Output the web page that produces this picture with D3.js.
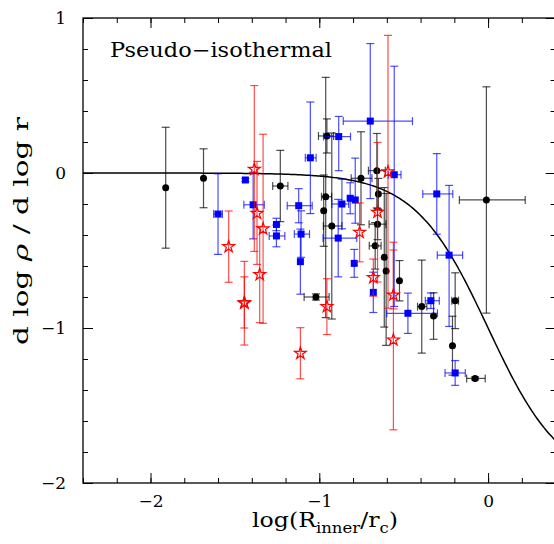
<!DOCTYPE html>
<html>
<head>
<meta charset="utf-8">
<script src="https://cdn.jsdelivr.net/npm/d3@7"></script>
<style>
  body { margin: 0; background: #fff; }
  svg { display: block; }
  text { font-family: "DejaVu Serif", serif; fill: #000; }
</style>
</head>
<body>
<script>
//------------------------------------------------------------------------------
// Data
//------------------------------------------------------------------------------

// black circles
var blackLogR   = [-1.91, -1.686, -1.231, -1.02, -0.01, -0.955, -0.962, -0.974, -0.926, -0.753, -0.659, -0.65, -0.655, -0.669, -0.615, -0.604, -0.525, -0.393, -0.323, -0.195, -0.211, -0.077];
var blackSlope  = [-0.095, -0.034, -0.084, -0.80, -0.174, 0.239, -0.153, -0.243, -0.342, -0.034, 0.015, -0.135, -0.33, -0.47, -0.544, -0.632, -0.695, -0.862, -0.923, -0.824, -1.114, -1.325];
var blackErrDn  = [0.39, 0.19, 0.23, 0.02, 0.73, 0.11, 0.78, 0.23, 0.6, 0.3, 0.24, 0.1, 0.1, 0.15, 0.45, 0.48, 0.13, 0.3, 0.15, 0.18, 0.19, 0.01];
var blackErrUp  = [0.39, 0.19, 0.23, 0.02, 0.73, 0.11, 0.77, 0.23, 0.6, 0.3, 0.24, 0.1, 0.1, 0.15, 0.45, 0.5, 0.13, 0.3, 0.15, 0.18, 0.19, 0.01];
var blackErrLo  = [0, 0, 0.045, 0.07, 0.16, 0.05, 0.025, 0, 0.05, 0.058, 0.05, 0, 0.05, 0.035, 0, 0, 0, 0.025, 0, 0.02, 0, 0.05];
var blackErrHi  = [0, 0, 0.045, 0.078, 0.23, 0.04, 0.035, 0, 0.06, 0.065, 0.05, 0, 0.05, 0.035, 0, 0, 0, 0.03, 0, 0.02, 0, 0.06];

// blue squares
var blueLogR    = [-1.60, -1.438, -1.392, -1.254, -1.254, -1.122, -1.108, -1.112, -1.053, -0.885, -0.866, -0.817, -0.787, -0.888, -0.793, -0.698, -0.68, -0.556, -0.475, -0.339, -0.304, -0.231, -0.195];
var blueSlope   = [-0.265, -0.045, -0.205, -0.332, -0.406, -0.211, -0.394, -0.572, 0.098, 0.235, -0.2, -0.163, -0.174, -0.42, -0.583, 0.335, -0.77, -0.011, -0.905, -0.824, -0.135, -0.53, -1.29];
var blueErrDn   = [0.26, 0.01, 0.22, 0.04, 0.07, 0.11, 0.15, 0.21, 0.36, 0.22, 0.16, 0.1, 0.15, 0.25, 0.09, 0.5, 0.13, 0.85, 0.13, 0.05, 0.26, 0.46, 0.08];
var blueErrUp   = [0.26, 0.01, 0.21, 0.04, 0.07, 0.11, 0.15, 0.21, 0.36, 0.13, 0.16, 0.1, 0.27, 0.25, 0.09, 0.5, 0.13, 0.70, 0.13, 0.05, 0.26, 0.45, 0.08];
var blueErrLo   = [0.026, 0, 0.055, 0, 0.043, 0.068, 0.04, 0, 0.03, 0.09, 0.06, 0, 0, 0.09, 0, 0.16, 0, 0.035, 0.125, 0.033, 0.083, 0.07, 0.06];
var blueErrHi   = [0.026, 0, 0.066, 0, 0.05, 0.08, 0.05, 0, 0.034, 0.07, 0.04, 0, 0, 0.11, 0, 0.25, 0, 0.04, 0.175, 0.05, 0.095, 0.08, 0.06];

// red stars
var redLogR     = [-1.537, -1.444, -1.444, -1.385, -1.369, -1.333, -1.353, -1.112, -0.955, -0.761, -0.655, -0.68, -0.593, -0.561, -0.561];
var redSlope    = [-0.475, -0.84, -0.835, 0.024, -0.26, -0.36, -0.655, -1.163, -0.862, -0.383, -0.253, -0.675, 0.008, -0.787, -1.077];
var redErrDn    = [0.23, 0.27, 0.165, 0.53, 0.33, 0.61, 0.31, 0.165, 0.18, 0.19, 0.45, 0.12, 0.88, 0.09, 0.58];
var redErrUp    = [0.23, 0.27, 0.165, 0.54, 0.335, 0.61, 0.31, 0.165, 0.18, 0.19, 0.45, 0.12, 0.88, 0.34, 0.58];

var xMajor = [-2, -1, 0];
var yMajor = [-2, -1, 0, 1];

// pseudo-isothermal model: rho ~ 1 / (1 + (r/rc)^2)
function modelSlope(logR) {
  var q = Math.pow(10, 2 * logR);
  return -2 * q / (1 + q);
}

//------------------------------------------------------------------------------
// Layout
//------------------------------------------------------------------------------

var W = 554, H = 544;
var plotL = 83, plotR = 555.6, plotT = 18, plotB = 483;

var x = d3.scaleLinear().domain([-2.4, 0.4]).range([plotL, plotR]);
var y = d3.scaleLinear().domain([-2, 1]).range([plotB, plotT]);

var xMinor = d3.range(-12, 3).map(function(i) { return +(i * 0.2).toFixed(1); });
var yMinor = d3.range(-10, 6).map(function(i) { return +(i * 0.2).toFixed(1); });

var svg = d3.select("body").append("svg")
  .attr("width", W)
  .attr("height", H);

//------------------------------------------------------------------------------
// Axes
//------------------------------------------------------------------------------

function addAxis(axisFn, scale, transform, minor, major, labels, pad) {
  var gMinor = svg.append("g").attr("transform", transform)
    .call(axisFn(scale).tickValues(minor).tickSize(-5).tickFormat(""));
  var gMajor = svg.append("g").attr("transform", transform)
    .call(axisFn(scale).tickValues(major).tickSize(-10).tickPadding(pad)
      .tickFormat(labels ? d3.format("d") : ""));
  [gMinor, gMajor].forEach(function(g) {
    g.select(".domain").remove();
    g.attr("font-family", null).attr("font-size", null);
    g.selectAll("line").attr("stroke", "#000").attr("stroke-width", 1);
    g.selectAll("text").style("font-size", "17px");
  });
}

addAxis(d3.axisBottom, x, "translate(0," + plotB + ")", xMinor, xMajor, true, 12);
addAxis(d3.axisTop, x, "translate(0," + plotT + ")", xMinor, xMajor, false, 0);
addAxis(d3.axisLeft, y, "translate(" + plotL + ",0)", yMinor, yMajor, true, 17);
addAxis(d3.axisRight, y, "translate(" + plotR + ",0)", yMinor, yMajor, false, 0);

svg.append("rect")
  .attr("x", plotL).attr("y", plotT)
  .attr("width", plotR - plotL).attr("height", plotB - plotT)
  .attr("fill", "none")
  .attr("stroke", "#000")
  .attr("stroke-width", 1.3);

//------------------------------------------------------------------------------
// Model curve
//------------------------------------------------------------------------------

var curveX = d3.range(-2.4, 0.4001, 0.01);
svg.append("path")
  .datum(curveX)
  .attr("fill", "none")
  .attr("stroke", "#000")
  .attr("stroke-width", 1.5)
  .attr("d", d3.line()
    .x(function(d) { return x(d); })
    .y(function(d) { return y(modelSlope(d)); }));

//------------------------------------------------------------------------------
// Points with error bars
//------------------------------------------------------------------------------

function makePoints(lx, ly, dn, up, lo, hi) {
  return lx.map(function(v, i) {
    return { x: v, y: ly[i], dn: dn[i], up: up[i], lo: lo ? lo[i] : 0, hi: hi ? hi[i] : 0 };
  });
}

function drawErrors(pts, color) {
  var g = svg.append("g")
    .attr("stroke", color)
    .attr("stroke-width", 1.2)
    .attr("stroke-opacity", 0.7)
    .attr("fill", "none");
  var cap = 4;
  pts.forEach(function(d) {
    var cx = x(d.x), cy = y(d.y);
    if (d.dn > 0 || d.up > 0) {
      var y0 = y(d.y + d.up), y1 = y(d.y - d.dn);
      g.append("line").attr("x1", cx).attr("x2", cx).attr("y1", y0).attr("y2", y1);
      g.append("line").attr("x1", cx - cap).attr("x2", cx + cap).attr("y1", y0).attr("y2", y0);
      g.append("line").attr("x1", cx - cap).attr("x2", cx + cap).attr("y1", y1).attr("y2", y1);
    }
    if (d.lo > 0 || d.hi > 0) {
      var x0 = x(d.x - d.lo), x1 = x(d.x + d.hi);
      g.append("line").attr("x1", x0).attr("x2", x1).attr("y1", cy).attr("y2", cy);
      g.append("line").attr("x1", x0).attr("x2", x0).attr("y1", cy - cap).attr("y2", cy + cap);
      g.append("line").attr("x1", x1).attr("x2", x1).attr("y1", cy - cap).attr("y2", cy + cap);
    }
  });
}

var blackPts = makePoints(blackLogR, blackSlope, blackErrDn, blackErrUp, blackErrLo, blackErrHi);
var bluePts  = makePoints(blueLogR, blueSlope, blueErrDn, blueErrUp, blueErrLo, blueErrHi);
var redPts   = makePoints(redLogR, redSlope, redErrDn, redErrUp, null, null);

drawErrors(blackPts, "#000");
svg.append("g").selectAll("circle")
  .data(blackPts)
  .enter().append("circle")
  .attr("cx", function(d) { return x(d.x); })
  .attr("cy", function(d) { return y(d.y); })
  .attr("r", 3.5)
  .attr("fill", "#000");

drawErrors(bluePts, "#0000ff");
svg.append("g").selectAll("rect")
  .data(bluePts)
  .enter().append("rect")
  .attr("x", function(d) { return x(d.x) - 3.5; })
  .attr("y", function(d) { return y(d.y) - 3.5; })
  .attr("width", 7)
  .attr("height", 7)
  .attr("fill", "#0000ff");

drawErrors(redPts, "#ff0000");
svg.append("g").selectAll("path")
  .data(redPts)
  .enter().append("path")
  .attr("transform", function(d) { return "translate(" + x(d.x) + "," + y(d.y) + ")"; })
  .attr("d", d3.symbol(d3.symbolStar).size(44))
  .attr("fill", "none")
  .attr("stroke", "#ff0000")
  .attr("stroke-width", 1.2);

//------------------------------------------------------------------------------
// Labels
//------------------------------------------------------------------------------

svg.append("text")
  .attr("x", 110).attr("y", 57)
  .attr("textLength", 222)
  .attr("lengthAdjust", "spacingAndGlyphs")
  .style("font-size", "20px")
  .text("Pseudo\u2212isothermal");

var xt = svg.append("text")
  .attr("x", 252).attr("y", 527)
  .attr("textLength", 146)
  .attr("lengthAdjust", "spacingAndGlyphs")
  .style("font-size", "20px");
xt.append("tspan").text("log(R");
xt.append("tspan").attr("dy", 6).style("font-size", "14px").text("inner");
xt.append("tspan").attr("dy", -6).text("/r");
xt.append("tspan").attr("dy", 6).style("font-size", "14px").text("c");
xt.append("tspan").attr("dy", -6).text(")");

var yt = svg.append("text")
  .attr("transform", "translate(28,345) rotate(-90)")
  .attr("textLength", 228)
  .attr("lengthAdjust", "spacingAndGlyphs")
  .style("font-size", "20px");
yt.append("tspan").text("d log ");
yt.append("tspan").style("font-style", "italic").text("\u03c1");
yt.append("tspan").text(" / d log r");
</script>
</body>
</html>
